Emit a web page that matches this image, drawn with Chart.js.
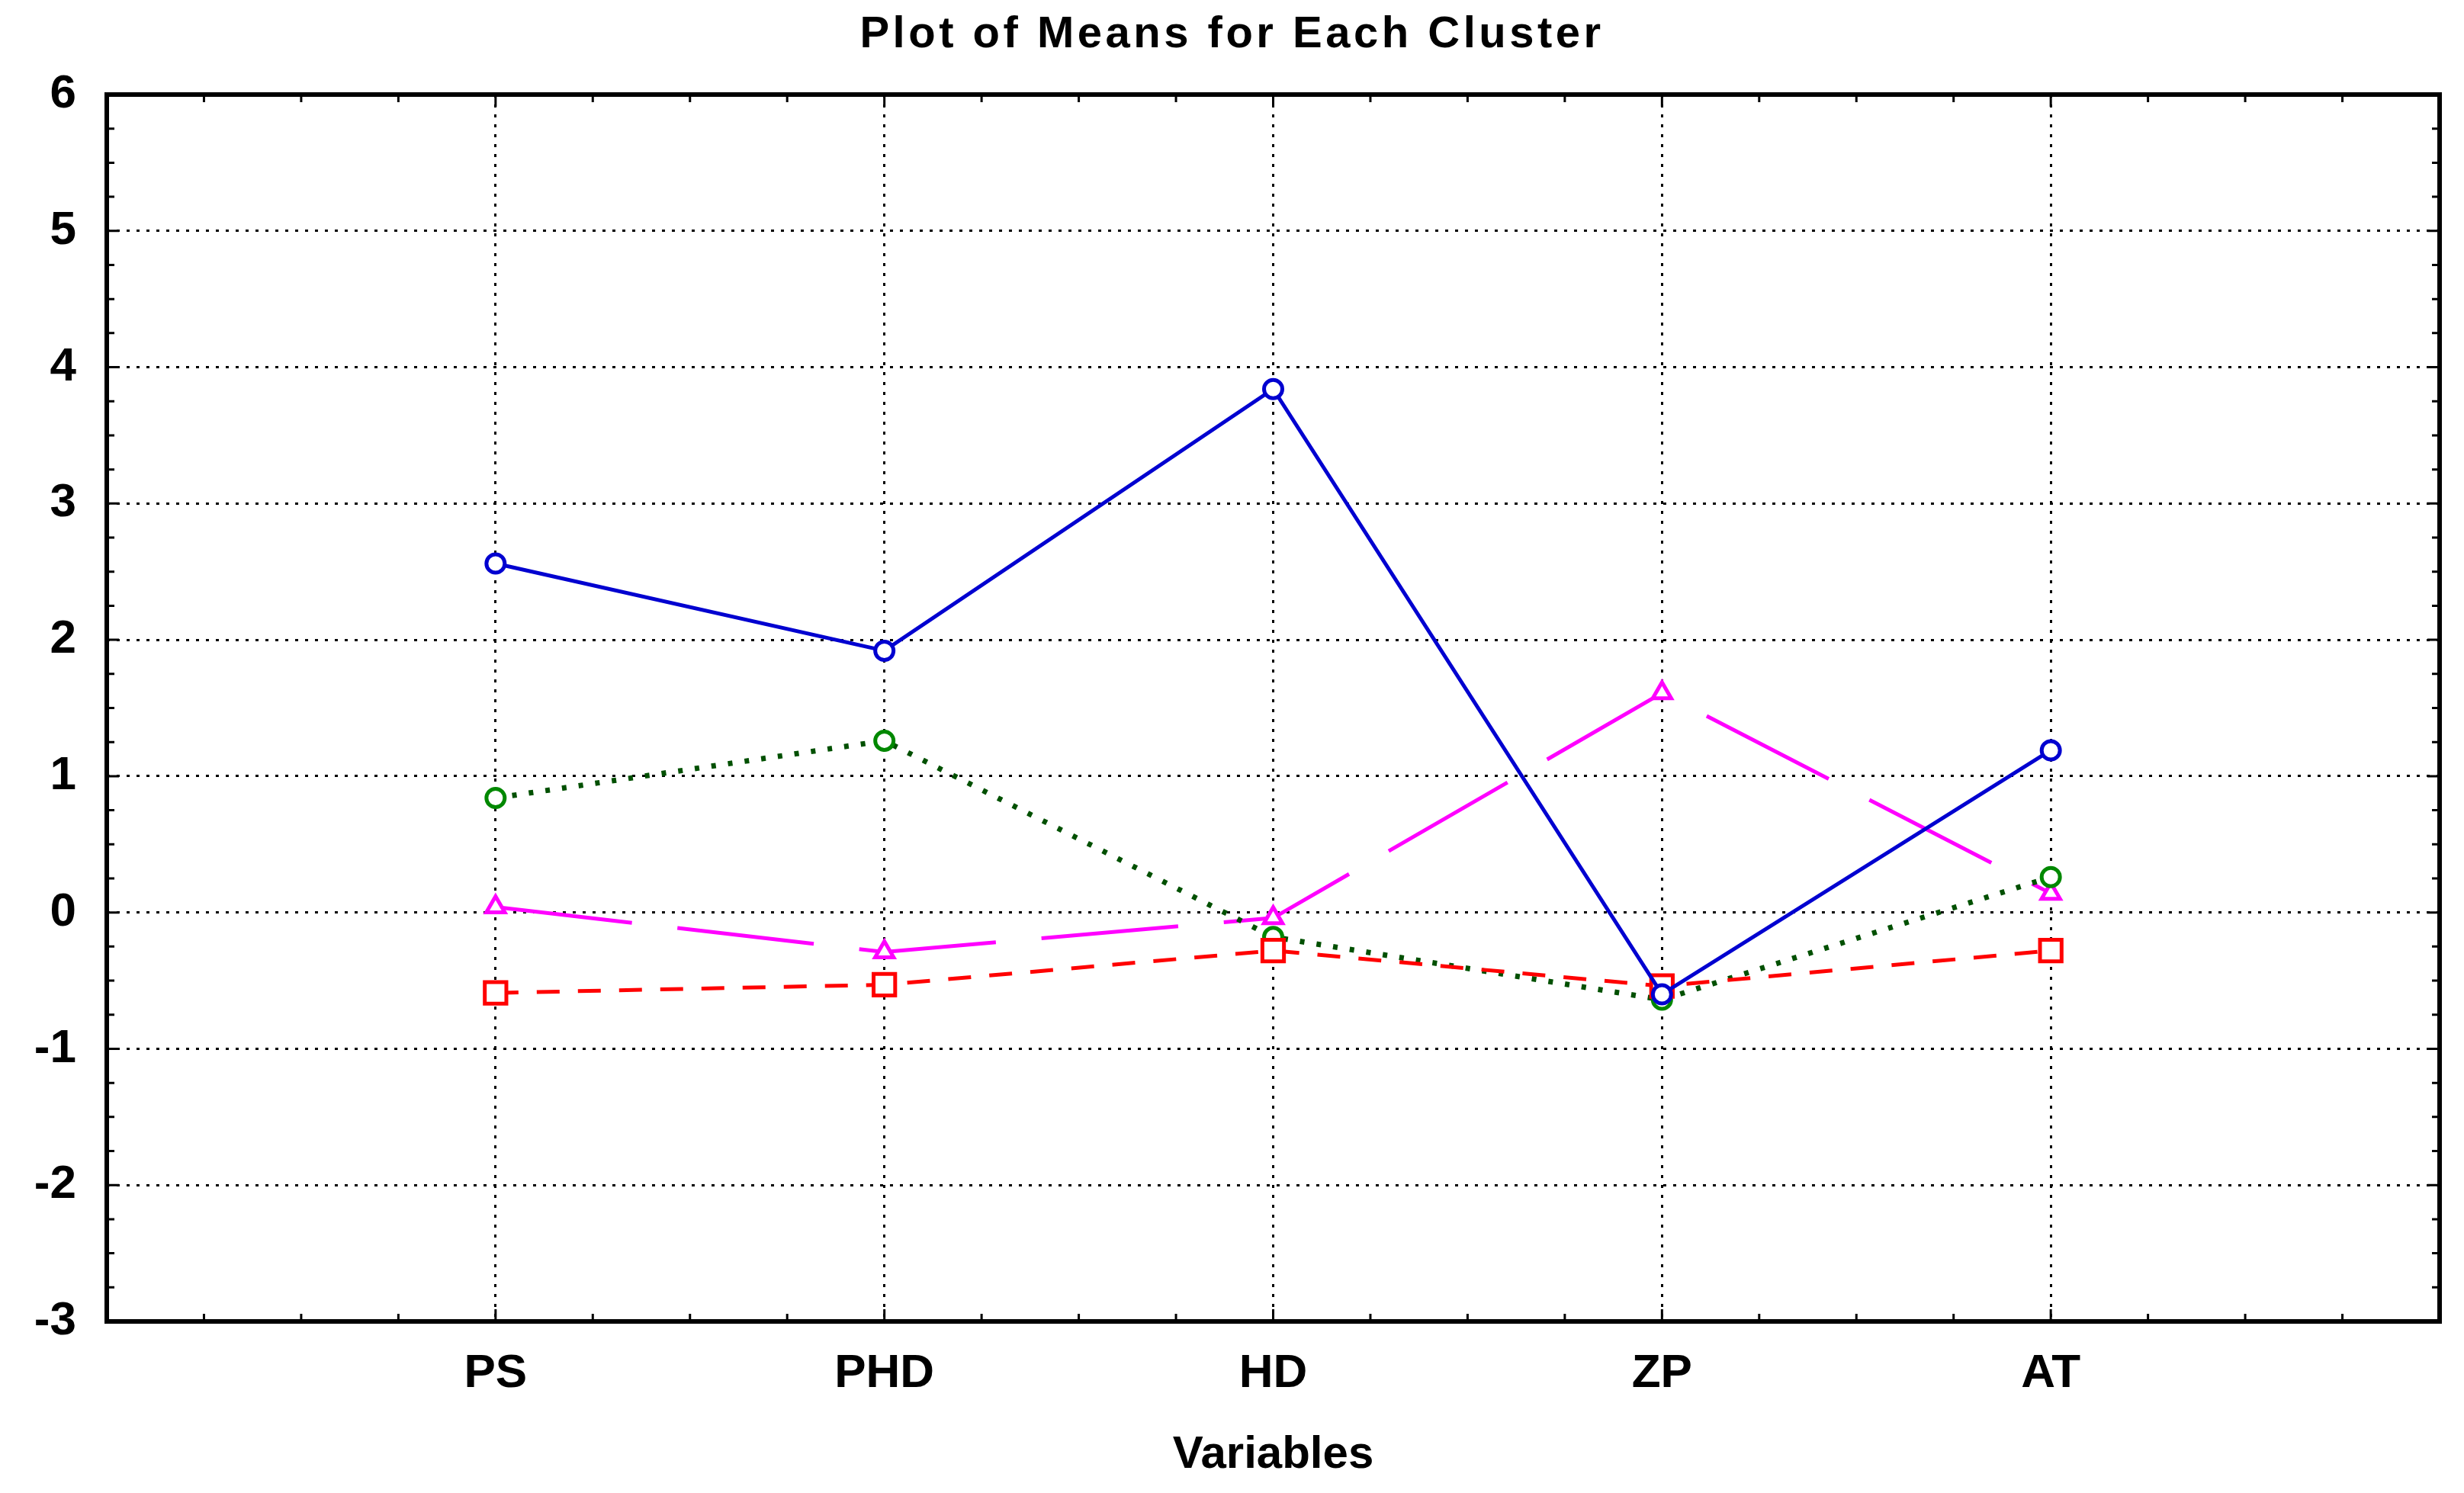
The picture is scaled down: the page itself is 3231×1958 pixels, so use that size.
<!DOCTYPE html>
<html>
<head>
<meta charset="utf-8">
<title>Plot of Means for Each Cluster</title>
<script src="https://cdn.jsdelivr.net/npm/chart.js@4.4.1/dist/chart.umd.min.js"></script>
<style>
  html, body { margin: 0; padding: 0; background: #fff; }
  canvas { display: block; }
</style>
</head>
<body>
<canvas id="myCanvas" width="3231" height="1958"></canvas>
<script>
var categories = ['PS', 'PHD', 'HD', 'ZP', 'AT'];
var yTicks = [-3, -2, -1, 0, 1, 2, 3, 4, 5, 6];

// cluster means
var cluster1 = [2.56, 1.92, 3.84, -0.60, 1.19];     // blue, solid, circles
var cluster2 = [-0.59, -0.53, -0.28, -0.54, -0.28]; // red, dashed, squares
var cluster3 = [0.84, 1.26, -0.18, -0.64, 0.26];    // green, dotted, circles
var cluster4 = [0.04, -0.29, -0.04, 1.61, 0.14];    // magenta, long dash, triangles

var titleText = 'Plot of Means for Each Cluster';
var FONT = "'Liberation Sans', Arial, sans-serif";

// blank slot at both ends so the categories sit inside the frame
var labels = [''].concat(categories, ['']);
function pad(arr) {
    return [null].concat(arr, [null]);
}

// spaced-out title like the original (Chart.js title has no letter spacing)
var spacedTitle = {
    id: 'spacedTitle',
    afterDraw: function (chart) {
        var ctx = chart.ctx;
        ctx.save();
        ctx.font = 'bold 58px ' + FONT;
        ctx.letterSpacing = '4.5px';
        ctx.fillStyle = '#000';
        ctx.textAlign = 'center';
        ctx.textBaseline = 'middle';
        ctx.fillText(titleText, chart.width / 2, 46);
        ctx.restore();
    }
};

var frameTicks = {
    id: 'frameTicks',
    afterDraw: function (chart) {
        var ctx = chart.ctx, a = chart.chartArea;
        var xs = chart.scales.x, ys = chart.scales.y;
        ctx.save();
        ctx.strokeStyle = '#000';
        ctx.lineWidth = 3;
        ctx.beginPath();
        for (var v = yTicks[0]; v <= yTicks[yTicks.length - 1] + 0.001; v += 0.25) {
            var py = ys.getPixelForValue(v);
            var len = Math.abs(v - Math.round(v)) < 0.01 ? 16 : 10;
            ctx.moveTo(a.left, py); ctx.lineTo(a.left + len, py);
            ctx.moveTo(a.right, py); ctx.lineTo(a.right - len, py);
        }
        for (var i = 0; i <= labels.length - 1 + 0.001; i += 0.25) {
            var px = xs.getPixelForValue(i);
            var l2 = Math.abs(i - Math.round(i)) < 0.01 ? 16 : 10;
            ctx.moveTo(px, a.top); ctx.lineTo(px, a.top + l2);
            ctx.moveTo(px, a.bottom); ctx.lineTo(px, a.bottom - l2);
        }
        ctx.stroke();
        ctx.lineWidth = 6;
        ctx.strokeRect(a.left, a.top, a.right - a.left, a.bottom - a.top);
        ctx.restore();
    }
};

var chartdata = {
    labels: labels,
    datasets: [
        {
            label: 'Cluster 1',
            data: pad(cluster1),
            borderColor: '#0000d0',
            borderWidth: 5,
            pointStyle: 'circle',
            pointRadius: 12,
            pointBorderWidth: 5,
            pointBorderColor: '#0000d0',
            pointBackgroundColor: '#fff'
        },
        {
            label: 'Cluster 2',
            data: pad(cluster2),
            borderColor: '#ff0000',
            borderWidth: 5,
            borderDash: [30, 24],
            pointStyle: 'rect',
            pointRadius: 20,
            pointBorderWidth: 5,
            pointBorderColor: '#ff0000',
            pointBackgroundColor: '#fff'
        },
        {
            label: 'Cluster 3',
            data: pad(cluster3),
            borderColor: '#005000',
            borderWidth: 7,
            borderDash: [6, 16],
            pointStyle: 'circle',
            pointRadius: 12,
            pointBorderWidth: 5,
            pointBorderColor: '#008800',
            pointBackgroundColor: '#fff'
        },
        {
            label: 'Cluster 4',
            data: pad(cluster4),
            borderColor: '#ff00ff',
            borderWidth: 5,
            borderDash: [180, 60],
            pointStyle: 'triangle',
            pointRadius: 14,
            pointBorderWidth: 5,
            pointBorderColor: '#ff00ff',
            pointBackgroundColor: '#fff'
        }
    ]
};

var ctx = document.getElementById('myCanvas');
var lineGraph = new Chart(ctx, {
    type: 'line',
    data: chartdata,
    plugins: [frameTicks, spacedTitle],
    options: {
        responsive: false,
        animation: false,
        devicePixelRatio: 1,
        layout: { padding: { left: 0, right: 31, top: 124, bottom: 0 } },
        elements: { line: { tension: 0, fill: false } },
        plugins: {
            legend: { display: false },
            tooltip: { enabled: false },
            title: { display: false }
        },
        scales: {
            x: {
                type: 'category',
                offset: false,
                afterFit: function (s) { s.height = 225; },
                grid: {
                    drawTicks: false,
                    lineWidth: 3,
                    color: function (c) { return c.tick && c.tick.label ? '#000' : 'rgba(0,0,0,0)'; }
                },
                border: { display: false, dash: [4, 9] },
                ticks: {
                    color: '#000',
                    padding: 32,
                    autoSkip: false,
                    maxRotation: 0,
                    font: { family: FONT, size: 62, weight: 'bold' }
                },
                title: {
                    display: true,
                    text: 'Variables',
                    color: '#000',
                    font: { family: FONT, size: 60, weight: 'bold' },
                    padding: { top: 0, bottom: 14 }
                }
            },
            y: {
                min: yTicks[0],
                max: yTicks[yTicks.length - 1],
                afterFit: function (s) { s.width = 140; },
                afterBuildTicks: function (s) {
                    s.ticks = yTicks.map(function (v) { return { value: v }; });
                },
                grid: { drawTicks: false, lineWidth: 3, color: '#000' },
                border: { display: false, dash: [4, 9] },
                ticks: {
                    color: '#000',
                    padding: 40,
                    font: { family: FONT, size: 62, weight: 'bold' }
                }
            }
        }
    }
});
</script>
</body>
</html>
